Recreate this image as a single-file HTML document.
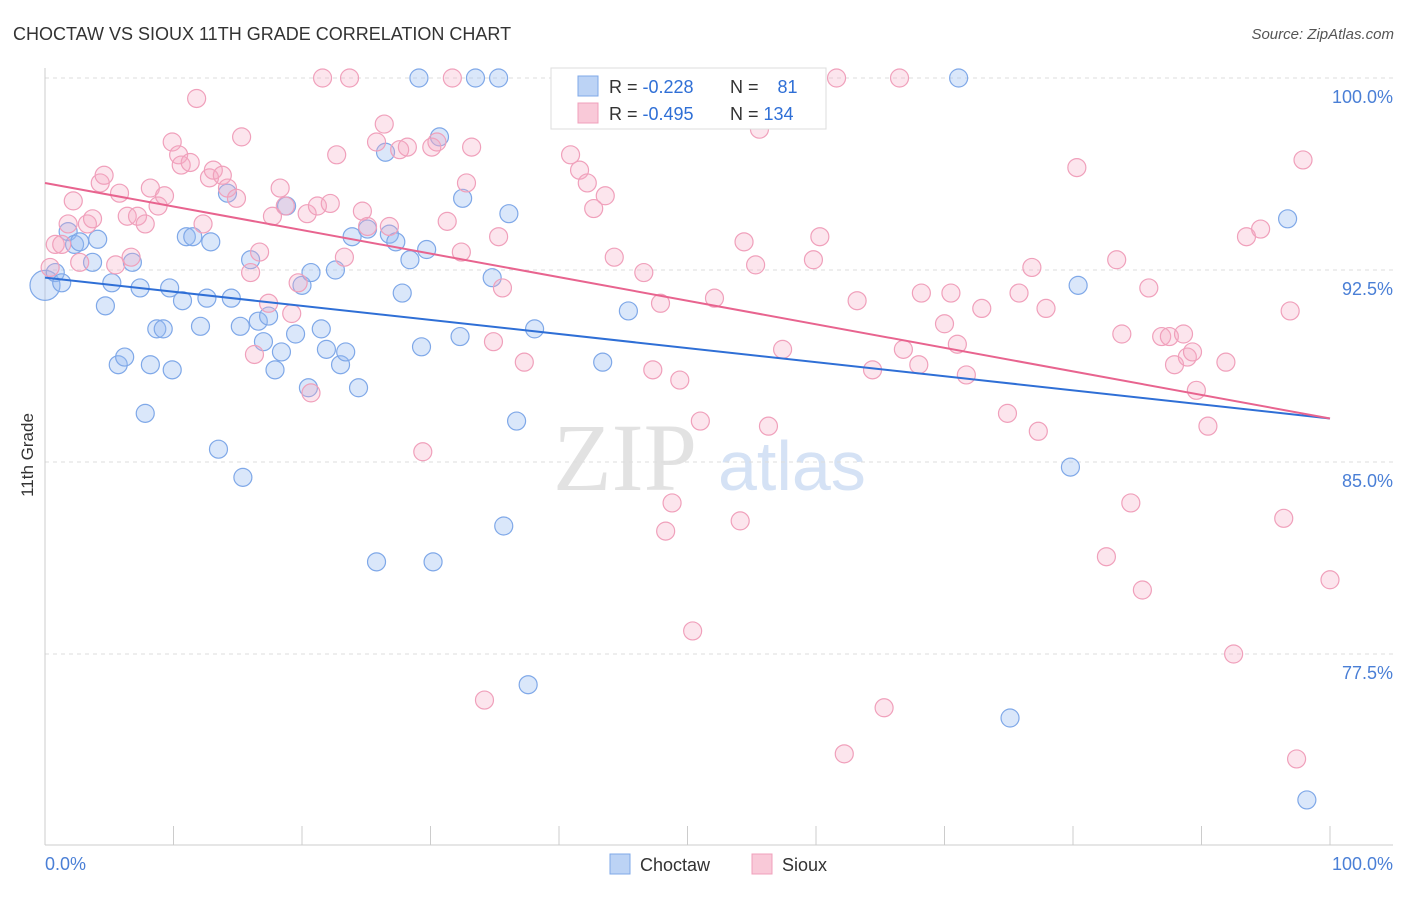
<!DOCTYPE html>
<html><head><meta charset="utf-8">
<style>
body{margin:0;background:#fff;font-family:"Liberation Sans",sans-serif;}
svg text{font-family:"Liberation Sans",sans-serif;}
</style></head>
<body>
<svg id="chart" width="1406" height="892" viewBox="0 0 1406 892">
<text x="13" y="40" font-size="18" fill="#333">CHOCTAW VS SIOUX 11TH GRADE CORRELATION CHART</text>
<text x="1394" y="39" font-size="15" fill="#555" font-style="italic" text-anchor="end">Source: ZipAtlas.com</text>
<text transform="translate(33,455) rotate(-90)" font-size="17" fill="#333" text-anchor="middle">11th Grade</text>
<g>
<text x="553" y="490" font-size="96" fill="#e2e2e2" font-family="Liberation Serif" style="font-family:'Liberation Serif',serif">ZIP</text>
<text x="718" y="490" font-size="70" fill="#d5e2f5">atlas</text>
</g>
<g id="grid"></g>
<g id="axes"></g>
<g id="points"></g>
<g id="trends"></g>
<g>
<rect x="551" y="68" width="275" height="61" fill="#fff" stroke="#ddd"/>
<rect x="578" y="76" width="20" height="20" fill="#bcd3f5" stroke="#7fa8e8"/>
<rect x="578" y="103" width="20" height="20" fill="#f9c9d8" stroke="#f0a0bb"/>
<text x="609" y="93" font-size="18" fill="#333">R = <tspan fill="#2f6fd6">-0.228</tspan></text>
<text x="730" y="93" font-size="18" fill="#333">N = <tspan fill="#2f6fd6" dx="14">81</tspan></text>
<text x="609" y="120" font-size="18" fill="#333">R = <tspan fill="#2f6fd6">-0.495</tspan></text>
<text x="730" y="120" font-size="18" fill="#333">N = <tspan fill="#2f6fd6">134</tspan></text>
</g>
<g>
<rect x="610" y="854" width="20" height="20" fill="#bcd3f5" stroke="#7fa8e8"/>
<text x="640" y="871" font-size="18" fill="#333">Choctaw</text>
<rect x="752" y="854" width="20" height="20" fill="#f9c9d8" stroke="#f0a0bb"/>
<text x="782" y="871" font-size="18" fill="#333">Sioux</text>
</g>
</svg>
<script>
const yTicks=[100,92.5,85,77.5];
const yTickLabels=["100.0%","92.5%","85.0%","77.5%"];
const xTickLabels=["0.0%","100.0%"];
const choctawX=[0,0.8,1.3,1.8,2.3,2.7,3.7,4.1,4.7,5.2,5.7,6.2,6.8,7.4,7.8,8.2,8.7,9.2,9.7,9.9,10.7,11.0,11.5,12.1,12.6,12.9,13.5,14.2,14.5,15.2,15.4,16.0,16.6,17.0,17.4,17.9,18.4,18.8,19.5,20.0,20.5,20.7,21.5,21.9,22.6,23.0,23.4,23.9,24.4,25.1,25.8,26.5,26.8,27.3,27.8,28.4,29.1,29.3,29.7,30.2,30.7,32.3,32.5,33.5,34.8,35.3,35.7,36.1,36.7,37.6,38.1,43.4,45.4,71.1,75.1,79.8,80.4,96.7,98.2];
const choctawY=[91.9,92.4,92.0,94.0,93.5,93.6,92.8,93.7,91.1,92.0,88.8,89.1,92.8,91.8,86.9,88.8,90.2,90.2,91.8,88.6,91.3,93.8,93.8,90.3,91.4,93.6,85.5,95.5,91.4,90.3,84.4,92.9,90.5,89.7,90.7,88.6,89.3,95.0,90.0,91.9,87.9,92.4,90.2,89.4,92.5,88.8,89.3,93.8,87.9,94.1,81.1,97.1,93.9,93.6,91.6,92.9,100,89.5,93.3,81.1,97.7,89.9,95.3,100,92.2,100,82.5,94.7,86.6,76.3,90.2,88.9,90.9,100,75.0,84.8,91.9,94.5,71.8];
const siouxX=[0.4,0.8,1.3,1.8,2.2,2.7,3.3,3.7,4.3,4.6,5.5,5.8,6.4,6.7,7.2,7.8,8.2,8.8,9.3,9.9,10.4,10.6,11.3,11.8,12.3,12.8,13.1,13.8,14.2,14.9,15.3,16.0,16.3,16.7,17.4,17.7,18.3,18.7,19.2,19.7,20.4,20.7,21.2,21.6,22.2,22.7,23.3,23.7,24.7,25.1,25.8,26.4,26.8,27.6,28.2,29.4,30.1,30.5,31.3,31.7,32.4,32.8,33.2,34.2,34.9,35.3,35.6,37.3,40.9,41.6,42.2,42.7,43.6,44.3,46.6,47.3,47.9,48.3,48.8,49.4,50.4,51.0,52.1,54.1,54.4,55.3,55.6,56.3,57.4,59.8,60.3,61.6,62.2,63.2,64.4,65.3,66.5,66.8,68.0,68.2,70.0,70.5,71.0,71.7,72.9,74.9,75.8,76.8,77.3,77.9,80.3,82.6,83.4,83.8,84.5,85.4,85.9,86.9,87.5,87.9,88.6,88.9,89.3,89.6,90.5,91.9,92.5,93.5,94.6,96.4,96.9,97.4,97.9,100];
const siouxY=[92.6,93.5,93.5,94.3,95.2,92.8,94.3,94.5,95.9,96.2,92.7,95.5,94.6,93.0,94.6,94.3,95.7,95.0,95.4,97.5,97.0,96.6,96.7,99.2,94.3,96.1,96.4,96.2,95.7,95.3,97.7,92.4,89.2,93.2,91.2,94.6,95.7,95.0,90.8,92.0,94.7,87.7,95.0,100,95.1,97.0,93.0,100,94.8,94.2,97.5,98.2,94.2,97.2,97.3,85.4,97.3,97.5,94.4,100,93.2,95.9,97.3,75.7,89.7,93.8,91.8,88.9,97.0,96.4,95.9,94.9,95.4,93.0,92.4,88.6,91.2,82.3,83.4,88.2,78.4,86.6,91.4,82.7,93.6,92.7,98.0,86.4,89.4,92.9,93.8,100,73.6,91.3,88.6,75.4,100,89.4,88.8,91.6,90.4,91.6,89.6,88.4,91.0,86.9,91.6,92.6,86.2,91.0,96.5,81.3,92.9,90.0,83.4,80.0,91.8,89.9,89.9,88.8,90.0,89.1,89.3,87.8,86.4,88.9,77.5,93.8,94.1,82.8,90.9,73.4,96.8,80.4];
const choctawTrend=[92.2,86.7];
const siouxTrend=[95.9,86.7];

const NS="http://www.w3.org/2000/svg";
const X0=45,X1=1330,Y100=78,PXPER=25.6;
function xs(v){return X0+(X1-X0)*v/100;}
function ys(v){return Y100+(100-v)*PXPER;}
function mk(tag,attrs,parent){const e=document.createElementNS(NS,tag);for(const k in attrs)e.setAttribute(k,attrs[k]);parent.appendChild(e);return e;}
const grid=document.getElementById('grid'),axes=document.getElementById('axes'),pts=document.getElementById('points'),tr=document.getElementById('trends');
yTicks.forEach((t,i)=>{
  const l=mk('line',{x1:X0,x2:1393,y1:ys(t),y2:ys(t),stroke:'#ddd','stroke-dasharray':'4,4'},grid);
  
  
  const tx=mk('text',{x:1393,y:ys(t)+25,'font-size':18,fill:'#4a7fd6','text-anchor':'end'},axes);
  tx.textContent=yTickLabels[i];
  
  
});
const ya=mk('line',{x1:X0,x2:X0,y1:68,y2:845,stroke:'#ccc'},axes);


const xa=mk('line',{x1:X0,x2:1393,y1:845,y2:845,stroke:'#ccc'},axes);


for(let k=0;k<=10;k++){
  const t=mk('line',{x1:xs(k*10),x2:xs(k*10),y1:826,y2:845,stroke:'#ccc'},axes);
  
  
}
const xl0=mk('text',{x:45,y:870,'font-size':18,fill:'#4a7fd6'},axes);
xl0.textContent=xTickLabels[0];


const xl1=mk('text',{x:1393,y:870,'font-size':18,fill:'#4a7fd6','text-anchor':'end'},axes);
xl1.textContent=xTickLabels[1];


choctawX.forEach((x,i)=>{
  const c=mk('circle',{cx:xs(x),cy:ys(choctawY[i]),r:i===0?15:9,fill:'rgba(150,185,240,0.35)',stroke:'#7fa8e8','stroke-width':1.2},pts);
  
  
});
siouxX.forEach((x,i)=>{
  const c=mk('circle',{cx:xs(x),cy:ys(siouxY[i]),r:9,fill:'rgba(245,170,195,0.3)',stroke:'#f0a0bb','stroke-width':1.2},pts);
  
  
});
const bl=mk('line',{x1:xs(0),x2:xs(100),y1:ys(choctawTrend[0]),y2:ys(choctawTrend[1]),stroke:'#2f6fd6','stroke-width':2},tr);


const pl=mk('line',{x1:xs(0),x2:xs(100),y1:ys(siouxTrend[0]),y2:ys(siouxTrend[1]),stroke:'#e8648f','stroke-width':2},tr);


</script>
</body></html>
